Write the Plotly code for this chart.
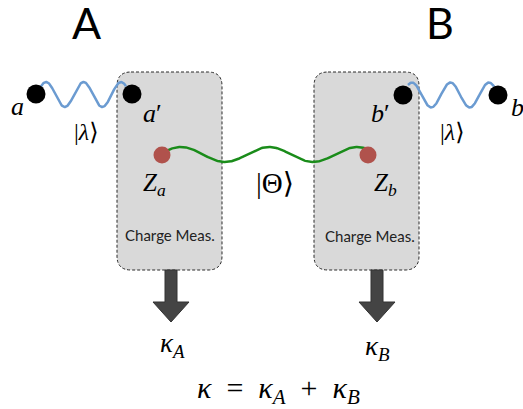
import numpy as np
import plotly.graph_objects as go

# ---- content ----
party_labels = ["A", "B"]
endpoint_labels = ["<i>a</i>", "<i>a</i>′", "<i>b</i>′", "<i>b</i>"]
state_labels = ["|<i>λ</i>⟩", "|<i>λ</i>⟩", "|Θ⟩"]
charge_labels = ["<i>Z</i><sub><i>a</i></sub>", "<i>Z</i><sub><i>b</i></sub>"]
box_labels = ["Charge Meas.", "Charge Meas."]
outcome_labels = ["<i>κ</i><sub><i>A</i></sub>", "<i>κ</i><sub><i>B</i></sub>"]
equation = ("<i>κ</i>\u2002=\u2002<i>κ</i><sub><i>A</i></sub>\u2002+\u2002"
            "<i>κ</i><sub><i>B</i></sub>")

# ---- layout geometry (pixel coordinates) ----
party_pos = [(86, 22), (440, 22)]
endpoint_dot = [(36, 94), (132, 94), (403, 95), (498, 95)]
endpoint_lab = [(17, 106), (152, 113), (380, 113), (517, 107)]
state_lab = [(86, 132), (452, 132), (275, 183)]
state_size = [24, 24, 29]
charge_dot = [(162, 155), (368, 155)]
charge_lab = [(154, 184), (385, 184)]
boxes = [(117, 72, 222, 270), (314, 72, 419, 270)]
box_lab = [(170, 235), (370, 236)]
arrow_x = [171, 377]
outcome_lab = [(172, 345), (377, 348)]
eq_pos = (278, 390)

MATH = "'Liberation Serif', 'DejaVu Serif', serif"
SANS = "Lato, 'Open Sans', sans-serif"

fig = go.Figure()

def rrect(x0, y0, x1, y1, r):
    return (f"M {x0+r},{y0} L {x1-r},{y0} Q {x1},{y0} {x1},{y0+r} "
            f"L {x1},{y1-r} Q {x1},{y1} {x1-r},{y1} L {x0+r},{y1} "
            f"Q {x0},{y1} {x0},{y1-r} L {x0},{y0+r} Q {x0},{y0} {x0+r},{y0} Z")

shapes = []
for (x0, y0, x1, y1) in boxes:
    shapes.append(dict(type="path", path=rrect(x0, y0, x1, y1, 14), layer="below",
                       fillcolor="#d9d9d9", line=dict(color="#2a2a2a", width=1, dash="3px,2px")))
for ax in arrow_x:
    sw, hw, y0, yh, yt = 6, 18, 270, 302, 322
    p = (f"M {ax-sw},{y0} L {ax+sw},{y0} L {ax+sw},{yh} L {ax+hw},{yh} "
         f"L {ax},{yt} L {ax-hw},{yh} L {ax-sw},{yh} Z")
    shapes.append(dict(type="path", path=p, fillcolor="#444444",
                       line=dict(color="#333333", width=1)))

# photon waves (decorative)
def wave(xa, xb, yc, amp, period, xpeak):
    x = np.linspace(xa, xb, 200)
    return x, yc - amp * np.cos(2 * np.pi * (x - xpeak) / period)

for (xa, xb, xp, yc, per) in [(40, 126, 46, 94.5, 37.5), (408, 494, 412, 95, 38.5)]:
    x, y = wave(xa, xb, yc, 12.5, per, xp)
    fig.add_trace(go.Scatter(x=x, y=y, mode="lines", line=dict(color="#6b9bd1", width=2.5),
                             hoverinfo="skip", showlegend=False))

xg = np.linspace(162, 368, 300)
yg = 154.5 + 7.5 * np.cos(2 * np.pi * (xg - 225) / 88)
fig.add_trace(go.Scatter(x=xg, y=yg, mode="lines", line=dict(color="#1a8c1a", width=2.5),
                         hoverinfo="skip", showlegend=False))

fig.add_trace(go.Scatter(x=[p[0] for p in endpoint_dot], y=[p[1] for p in endpoint_dot],
                         mode="markers", marker=dict(size=19, color="#000000"),
                         hoverinfo="skip", showlegend=False))
fig.add_trace(go.Scatter(x=[p[0] for p in charge_dot], y=[p[1] for p in charge_dot],
                         mode="markers", marker=dict(size=17, color="#b0524c"),
                         hoverinfo="skip", showlegend=False))

ann = []
def txt(pos, s, size, family, color="#000000"):
    ann.append(dict(x=pos[0], y=pos[1], text=s, showarrow=False, xanchor="center",
                    yanchor="middle", font=dict(size=size, family=family, color=color)))

for p, s in zip(party_pos, party_labels):
    txt(p, s, 43, SANS)
for p, s in zip(endpoint_lab, endpoint_labels):
    txt(p, s, 26, MATH)
for p, s, z in zip(state_lab, state_labels, state_size):
    txt(p, s, z, MATH)
for p, s in zip(charge_lab, charge_labels):
    txt(p, s, 25, MATH)
for p, s in zip(box_lab, box_labels):
    txt(p, s, 15, SANS, "#222222")
for p, s in zip(outcome_lab, outcome_labels):
    txt(p, s, 27, MATH)
txt(eq_pos, equation, 30, MATH)

fig.update_layout(width=523, height=409, margin=dict(l=0, r=0, t=0, b=0),
                  plot_bgcolor="white", paper_bgcolor="white",
                  xaxis=dict(range=[0, 523], visible=False, fixedrange=True),
                  yaxis=dict(range=[409, 0], visible=False, fixedrange=True),
                  shapes=shapes, annotations=ann, showlegend=False)
fig.write_html("out.html", config={"displayModeBar": False},
               post_script="document.body.style.margin='0px';document.body.style.overflow='hidden';")
